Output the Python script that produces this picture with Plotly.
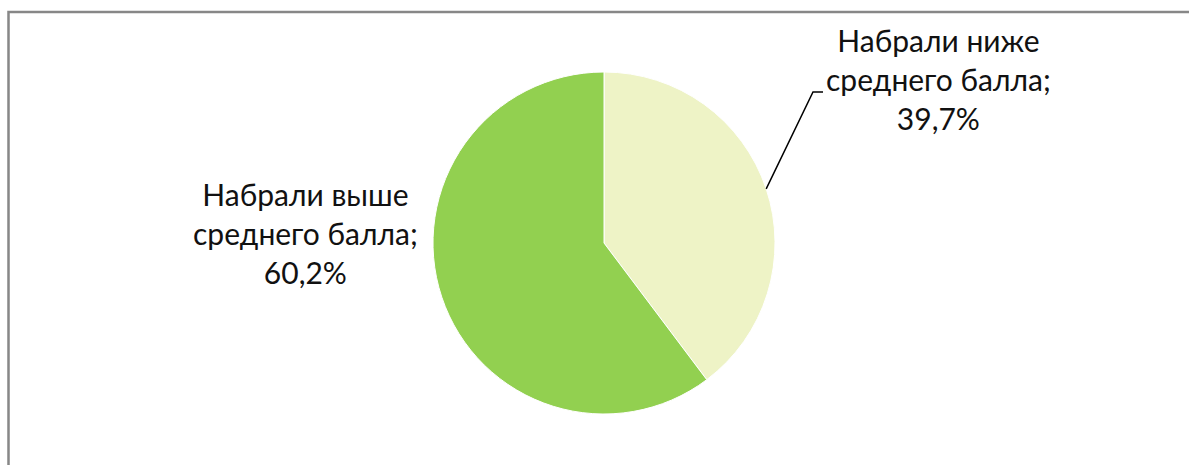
import math
import plotly.graph_objects as go

labels = ["Набрали ниже<br>среднего балла;<br>39,7%", "Набрали выше<br>среднего балла;<br>60,2%"]
names = ["Набрали ниже среднего балла", "Набрали выше среднего балла"]
values = [39.7, 60.2]
colors = ["#EEF3C6", "#92D050"]

W, H = 1189, 465
cx, cy, r = 604, 243, 171

def px(x):
    return x / W

def py(y):
    return 1 - y / H

fig = go.Figure(go.Pie(
    labels=names,
    values=values,
    sort=False,
    direction="clockwise",
    rotation=0,
    textinfo="none",
    hoverinfo="label+percent",
    marker=dict(colors=colors, line=dict(color="#FFFFFF", width=1)),
    domain=dict(x=[px(cx - r), px(cx + r)], y=[py(cy + r), py(cy - r)]),
    showlegend=False,
))

# leader line start: midpoint of first slice on the circle
total = sum(values)
mid_angle = math.pi * 2 * (values[0] / 2) / total
sx = cx + r * math.sin(mid_angle)
sy = cy - r * math.cos(mid_angle)

font = dict(family="Lato, Open Sans, sans-serif", size=30, color="#111111")

fig.update_layout(
    width=W, height=H,
    margin=dict(l=0, r=0, t=0, b=0),
    paper_bgcolor="#FFFFFF",
    plot_bgcolor="#FFFFFF",
    annotations=[
        dict(text=labels[0], x=px(938), y=py(79), xref="paper", yref="paper",
             showarrow=False, font=font, align="center", xanchor="center", yanchor="middle"),
        dict(text=labels[1], x=px(305), y=py(233), xref="paper", yref="paper",
             showarrow=False, font=font, align="center", xanchor="center", yanchor="middle"),
    ],
    shapes=[
        dict(type="rect", xref="paper", yref="paper",
             x0=px(8.5), x1=1.02, y0=-0.02, y1=py(12),
             line=dict(color="#878787", width=2.5), fillcolor="rgba(0,0,0,0)"),
        dict(type="path", xref="paper", yref="paper",
             path=f"M {px(sx)} {py(sy)} L {px(813)} {py(92)} L {px(823)} {py(92)}",
             line=dict(color="#000000", width=1.5)),
    ],
)

fig.write_html("out.html", config={"displayModeBar": False},
               post_script="document.body.style.margin='0';document.body.style.overflow='hidden';")
